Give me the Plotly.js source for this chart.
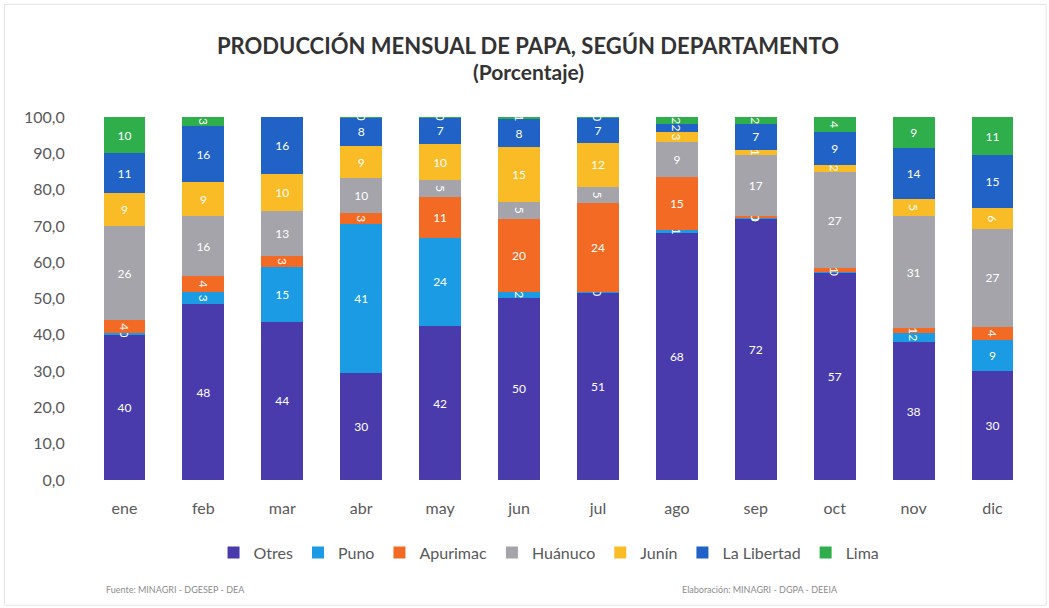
<!DOCTYPE html>
<html>
<head>
<meta charset="utf-8">
<script src="https://cdn.plot.ly/plotly-3.0.1.min.js"></script>
<style>html,body{margin:0;padding:0;background:#fff;}#chart{width:1049px;height:608px;}</style>
</head>
<body>
<div id="chart"></div>
<script>
const months = ["ene","feb","mar","abr","may","jun","jul","ago","sep","oct","nov","dic"];
const seriesNames = ["Otres","Puno","Apurimac","Huánuco","Junín","La Libertad","Lima"];
const otres      = [40.0, 48.4, 43.6, 29.6, 42.4, 50.2, 51.4, 68.0, 72.0, 57.0, 38.0, 30.0];
const puno       = [ 0.4,  3.4, 15.2, 40.8, 24.4,  1.6,  0.4,  1.0,  0.2,  0.3,  2.4,  8.6];
const apurimac   = [ 3.6,  4.4,  2.8,  3.2, 11.2, 20.2, 24.4, 14.6,  0.4,  1.0,  1.4,  3.6];
const huanuco    = [26.0, 16.4, 12.6,  9.6,  4.6,  4.6,  4.6,  9.4, 17.0, 26.6, 31.0, 27.0];
const junin      = [ 9.0,  9.4, 10.2,  8.8, 10.0, 15.0, 12.0,  3.0,  1.4,  2.0,  4.6,  5.6];
const laLibertad = [11.0, 15.5, 15.6,  7.8,  7.2,  7.8,  6.8,  2.0,  7.0,  9.0, 14.0, 14.6];
const lima       = [10.0,  2.5,  0.0,  0.2,  0.2,  0.6,  0.4,  2.0,  2.0,  4.1,  8.6, 10.6];
const yTickVals  = [0,10,20,30,40,50,60,70,80,90,100];
const yTickText  = ["0,0","10,0","20,0","30,0","40,0","50,0","60,0","70,0","80,0","90,0","100,0"];
const colors = ["#4a3bad","#1b9be3","#f36a24","#a4a4aa","#f9bb26","#2162c6","#2fae4c"];

const font = 'Lato, "Open Sans", "Liberation Sans", sans-serif';
const values = [otres, puno, apurimac, huanuco, junin, laLibertad, lima];
const traces = values.map((v,i)=>({
  type:'bar', name: seriesNames[i], x: months, y: v,
  marker:{color: colors[i]},
  text: v.map(x=>Math.round(x).toString()),
  texttemplate:'%{text}',
  textposition:'inside', insidetextanchor:'middle',
  textfont:{color:'#ffffff', size:12, family:font},
  hoverinfo:'x+y+name'
}));

const layout = {
  width:1049, height:608,
  margin:{l:85, r:17, t:117, b:128},
  barmode:'stack', bargap:0.47,
  paper_bgcolor:'#ffffff', plot_bgcolor:'#ffffff',
  font:{family:font, color:'#595959', size:16},
  uniformtext:{minsize:12, mode:'show'},
  showlegend:true,
  legend:{orientation:'h', x:0.49, xanchor:'center', y:-0.2, yanchor:'middle',
          font:{size:16, color:'#595959', family:font}, traceorder:'normal',
          itemwidth:30, itemclick:false},
  xaxis:{type:'category', showgrid:false, zeroline:false, showline:false,
         tickfont:{size:16, color:'#595959', family:font}, ticks:'outside', ticklen:14,
         tickcolor:'rgba(0,0,0,0)'},
  yaxis:{range:[0,100], tickvals:yTickVals, ticktext:yTickText, showgrid:false,
         zeroline:false, showline:false, ticks:'outside', ticklen:16,
         tickcolor:'rgba(0,0,0,0)', tickfont:{size:16, color:'#595959', family:font}},
  annotations:[
    {text:'<b>PRODUCCIÓN MENSUAL DE PAPA, SEGÚN DEPARTAMENTO</b>', xref:'paper', yref:'paper',
     x:0.468, y:1.198, xanchor:'center', yanchor:'middle', showarrow:false,
     font:{size:22, color:'#333333', family:font}},
    {text:'<b>(Porcentaje)</b>', xref:'paper', yref:'paper',
     x:0.468, y:1.124, xanchor:'center', yanchor:'middle', showarrow:false,
     font:{size:21, color:'#333333', family:font}},
    {text:'Fuente: MINAGRI - DGESEP - DEA', xref:'paper', yref:'paper',
     x:0.02, y:-0.303, xanchor:'left', yanchor:'middle', showarrow:false,
     font:{size:9, color:'#8c8c8c', family:font}},
    {text:'Elaboración: MINAGRI - DGPA - DEEIA', xref:'paper', yref:'paper',
     x:0.628, y:-0.303, xanchor:'left', yanchor:'middle', showarrow:false,
     font:{size:9, color:'#8c8c8c', family:font}}
  ],
  shapes:[
    {type:'rect', xref:'paper', yref:'paper', x0:-0.085, x1:1.015, y0:-0.345, y1:1.31,
     line:{color:'#e4e4e4', width:1}}
  ]
};
Plotly.newPlot('chart', traces, layout, {displayModeBar:false, staticPlot:true});
</script>
</body>
</html>
